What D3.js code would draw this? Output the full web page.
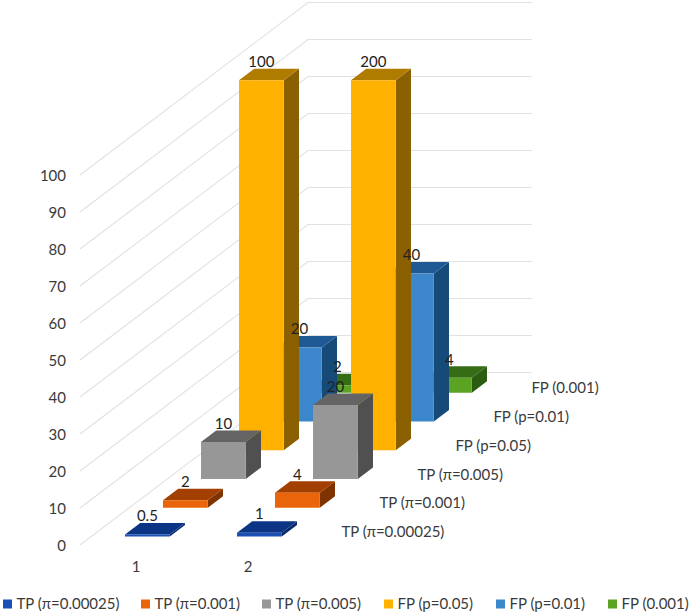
<!DOCTYPE html>
<html><head><meta charset="utf-8">
<style>html,body{margin:0;padding:0;background:#fff}svg{display:block}text{font-family:Lato,"Open Sans",sans-serif}</style>
<script src="https://cdn.jsdelivr.net/npm/d3@7"></script></head>
<body><svg id="c" width="690" height="616"></svg>
<script>
const categories = ["1","2"];
const seriesNames = ["TP (π=0.00025)","TP (π=0.001)","TP (π=0.005)","FP (p=0.05)","FP (p=0.01)","FP (0.001)"];
const valuesCat1 = [0.5,2,10,100,20,2];
const valuesCat2 = [1,4,20,200,40,4];
const valueTicks = [0,10,20,30,40,50,60,70,80,90,100];
const frontColors = ["#1B4FB4","#E9640A","#979797","#FFB100","#3C87CC","#5AA323"];
const topColors = ["#0C3484","#A33F00","#646464","#B07C00","#1F5A94","#366C13"];
const sideColors = ["#0A2A6E","#7E3300","#505050","#8A6000","#164A78","#2C5C0F"];
const legendX = [3,141,262,384,496,608];

const svg = d3.select("#c");
const x0 = 80, y0 = 545, floorW = 224, depthDX = 228, depthDY = -172.5;
const xCat = d3.scaleBand().domain(categories).range([0,floorW]).paddingInner(.6).paddingOuter(.3);
const zSer = d3.scaleBand().domain(seriesNames).range([0,1]).paddingInner(.6).paddingOuter(.3);
const yVal = d3.scaleLinear().domain([0,100]).range([0,-370]).clamp(true);
const px = (u,d)=>x0+u+depthDX*d;
const py = (v,d)=>y0+yVal(v)+depthDY*d;
const line = d3.line();

const grid = svg.append("g");
valueTicks.forEach(t=>{
  grid.append("path").attr("fill","none").attr("stroke","#e1e1e1").attr("stroke-width",1.1)
    .attr("d",line([[px(0,0),py(t,0)],[px(0,1),py(t,1)],[px(floorW,1),py(t,1)]]));
});
svg.append("g").selectAll("text").data(valueTicks).join("text")
  .attr("x",66).attr("y",t=>py(t,0)+.5).attr("dy","0.35em").attr("text-anchor","end")
  .attr("font-size",15).attr("fill","#3a3a3a").text(d=>d);

const bars = svg.append("g");
const labels = svg.append("g");
d3.range(seriesNames.length-1,-1,-1).forEach(i=>{
  const name = seriesNames[i];
  [[categories[1],valuesCat2[i]],[categories[0],valuesCat1[i]]].forEach(([c,v])=>{
    const u0=xCat(c),u1=u0+xCat.bandwidth(),d0=zSer(name),d1=d0+zSer.bandwidth();
    const g=bars.append("g");
    g.append("path").attr("fill",sideColors[i]).attr("d",line([[px(u1,d0),py(0,d0)],[px(u1,d1),py(0,d1)],[px(u1,d1),py(v,d1)],[px(u1,d0),py(v,d0)]])+"Z");
    g.append("path").attr("fill",topColors[i]).attr("d",line([[px(u0,d0),py(v,d0)],[px(u1,d0),py(v,d0)],[px(u1,d1),py(v,d1)],[px(u0,d1),py(v,d1)]])+"Z");
    g.append("path").attr("fill",frontColors[i]).attr("d",line([[px(u0,d0),py(0,d0)],[px(u1,d0),py(0,d0)],[px(u1,d0),py(v,d0)],[px(u0,d0),py(v,d0)]])+"Z");
    labels.append("text").attr("x",px((u0+u1)/2,d0)).attr("y",py(v,d1)-7).attr("dy","0.35em")
      .attr("text-anchor","middle").attr("font-size",15).attr("fill","#222").text(v);
  });
});

svg.append("g").selectAll("text").data(categories).join("text")
  .attr("x",c=>px(xCat(c)+xCat.bandwidth()/2,0)).attr("y",566.5).attr("dy","0.35em")
  .attr("text-anchor","middle").attr("font-size",15).attr("fill","#3a3a3a").text(d=>d);

svg.append("g").selectAll("text").data(seriesNames).join("text")
  .attr("x",n=>px(floorW,zSer(n))+26).attr("y",n=>py(0,zSer(n))-4.5).attr("dy","0.35em")
  .attr("font-size",15).attr("fill","#3a3a3a").text(d=>d);

const leg = svg.append("g").selectAll("g").data(seriesNames).join("g")
  .attr("transform",(d,i)=>`translate(${legendX[i]},604)`);
leg.append("rect").attr("y",-4.5).attr("width",9).attr("height",9).attr("fill",(d,i)=>frontColors[i]);
leg.append("text").attr("x",13.5).attr("dy","0.35em").attr("font-size",15).attr("fill","#3a3a3a").text(d=>d);
</script></body></html>
